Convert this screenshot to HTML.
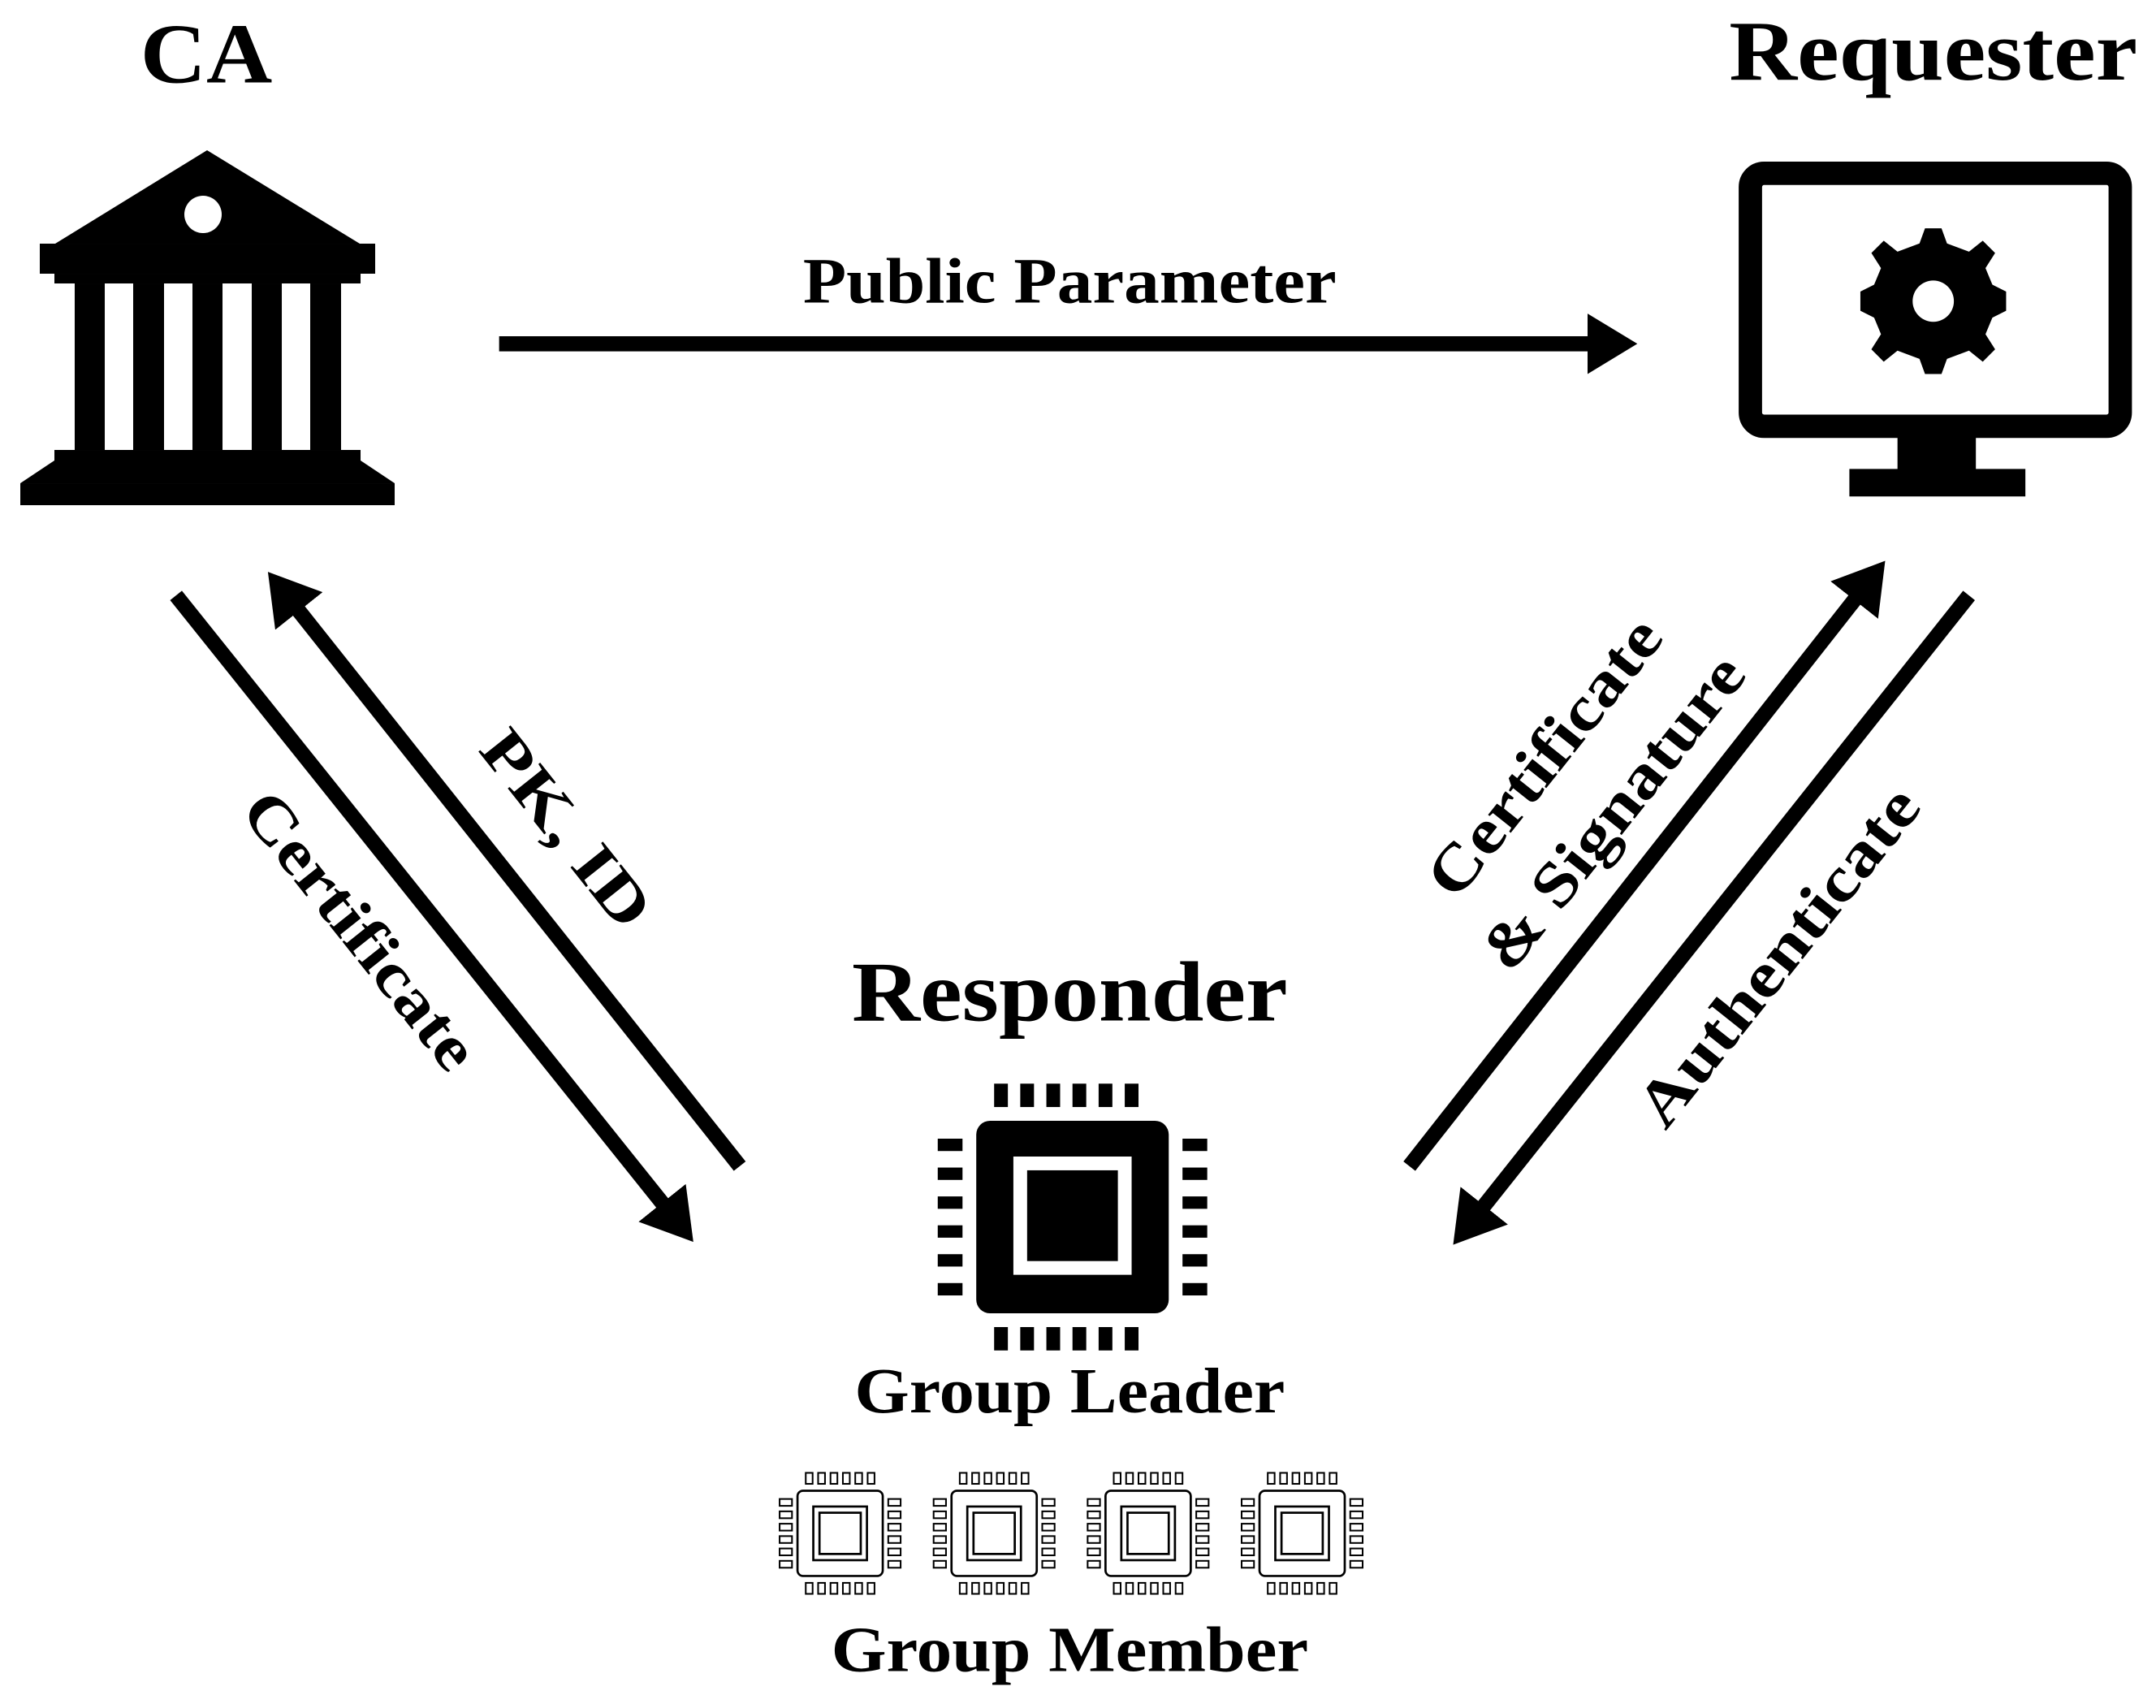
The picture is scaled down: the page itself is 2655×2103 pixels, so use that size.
<!DOCTYPE html>
<html><head><meta charset="utf-8"><style>
html,body{margin:0;padding:0;background:#fff;}
svg{display:block}
text{font-family:"Liberation Serif",serif;font-weight:bold;fill:#000}
</style></head><body>
<svg width="2655" height="2103" viewBox="0 0 1568 1242" preserveAspectRatio="none" xmlns="http://www.w3.org/2000/svg">
<defs>
<marker id="ah" markerWidth="4" markerHeight="4" refX="0.5" refY="2" orient="auto" markerUnits="strokeWidth">
<path d="M0,0 L3.3,2 L0,4 Z" fill="#000"/>
</marker>
<g id="sc">
<rect x="-31" y="-31" width="62" height="62" rx="4" fill="none" stroke="#000" stroke-width="1.6"/>
<rect x="-19.5" y="-19.5" width="39" height="39" fill="none" stroke="#000" stroke-width="1.6"/>
<rect x="-15" y="-15" width="30" height="30" fill="none" stroke="#000" stroke-width="1.6"/>
<g fill="none" stroke="#000" stroke-width="1.2">
<rect x="-25" y="-44" width="5" height="8"/><rect x="-16" y="-44" width="5" height="8"/><rect x="-7" y="-44" width="5" height="8"/><rect x="2" y="-44" width="5" height="8"/><rect x="11" y="-44" width="5" height="8"/><rect x="20" y="-44" width="5" height="8"/>
<rect x="-25" y="36" width="5" height="8"/><rect x="-16" y="36" width="5" height="8"/><rect x="-7" y="36" width="5" height="8"/><rect x="2" y="36" width="5" height="8"/><rect x="11" y="36" width="5" height="8"/><rect x="20" y="36" width="5" height="8"/>
<rect x="-44" y="-25" width="9" height="5"/><rect x="-44" y="-16" width="9" height="5"/><rect x="-44" y="-7" width="9" height="5"/><rect x="-44" y="2" width="9" height="5"/><rect x="-44" y="11" width="9" height="5"/><rect x="-44" y="20" width="9" height="5"/>
<rect x="35" y="-25" width="9" height="5"/><rect x="35" y="-16" width="9" height="5"/><rect x="35" y="-7" width="9" height="5"/><rect x="35" y="2" width="9" height="5"/><rect x="35" y="11" width="9" height="5"/><rect x="35" y="20" width="9" height="5"/>
</g>
</g>
</defs>

<g transform="scale(0.5906)" fill="#000">
<polygon points="255,185 443,300 68,300"/>
<rect x="49" y="300" width="413" height="37"/>
<rect x="67" y="337" width="377" height="12"/>
<rect x="92" y="349" width="37" height="205"/>
<rect x="164" y="349" width="38" height="205"/>
<rect x="237" y="349" width="37" height="205"/>
<rect x="310" y="349" width="37" height="205"/>
<rect x="382" y="349" width="38" height="205"/>
<rect x="67" y="554" width="377" height="14"/>
<polygon points="67,567 444,567 486,595 25,595"/>
<rect x="25" y="595" width="461" height="27"/>
<circle cx="250" cy="264" r="23" fill="#fff"/>
</g>

<rect x="1273" y="126" width="269" height="184" rx="10" fill="none" stroke="#000" stroke-width="17"/>
<rect x="1380" y="316" width="57" height="28" fill="#000"/>
<rect x="1345" y="341" width="128" height="20" fill="#000"/>
<g transform="translate(1406,219)">
<path fill="#000" fill-rule="evenodd" d="M-6,-53 L6,-53 L10,-42 L26,-36 L36,-44 L45,-35 L38,-24 L43,-12 L53,-7 L53,7 L43,12 L38,24 L45,35 L36,44 L26,36 L10,42 L6,53 L-6,53 L-10,42 L-26,36 L-36,44 L-45,35 L-38,24 L-43,12 L-53,7 L-53,-7 L-43,-12 L-38,-24 L-45,-35 L-36,-44 L-26,-36 L-10,-42 Z M15,0 A15,15 0 1 0 -15,0 A15,15 0 1 0 15,0 Z"/>
</g>

<text x="150" y="60" font-size="62" text-anchor="middle" textLength="96" lengthAdjust="spacingAndGlyphs">CA</text>
<text x="1406" y="58" font-size="62" text-anchor="middle" textLength="297" lengthAdjust="spacingAndGlyphs">Requester</text>
<text x="778" y="220" font-size="47" text-anchor="middle" textLength="388" lengthAdjust="spacingAndGlyphs">Public Parameter</text>
<text x="778" y="742" font-size="62" text-anchor="middle" textLength="317" lengthAdjust="spacingAndGlyphs">Responder</text>
<text x="778" y="1027" font-size="47" text-anchor="middle" textLength="313" lengthAdjust="spacingAndGlyphs">Group Leader</text>
<text x="778" y="1215" font-size="47" text-anchor="middle" textLength="347" lengthAdjust="spacingAndGlyphs">Group Member</text>

<g stroke="#000" stroke-width="11" fill="none">
<line x1="363" y1="250" x2="1160" y2="250" marker-end="url(#ah)"/>
<line x1="128" y1="433" x2="485" y2="879" marker-end="url(#ah)"/>
<line x1="538" y1="848" x2="214" y2="440" marker-end="url(#ah)"/>
<line x1="1025" y1="848" x2="1352" y2="432" marker-end="url(#ah)"/>
<line x1="1432" y1="433" x2="1076" y2="881" marker-end="url(#ah)"/>
</g>

<text font-size="46" text-anchor="middle" textLength="170" lengthAdjust="spacingAndGlyphs" transform="translate(400,612) rotate(51.5)">PK, ID</text>
<text font-size="46" text-anchor="middle" textLength="245" lengthAdjust="spacingAndGlyphs" transform="translate(250,686) rotate(51.5)">Certificate</text>
<text font-size="46" text-anchor="middle" textLength="245" lengthAdjust="spacingAndGlyphs" transform="translate(1135,560) rotate(-51.5)">Certificate</text>
<text font-size="46" text-anchor="middle" textLength="278" lengthAdjust="spacingAndGlyphs" transform="translate(1185,600) rotate(-51.5)">&amp; Signature</text>
<text font-size="46" text-anchor="middle" textLength="301" lengthAdjust="spacingAndGlyphs" transform="translate(1305,705) rotate(-51.5)">Authenticate</text>

<rect x="710" y="815" width="140" height="140" rx="10" fill="#000"/>
<rect x="737" y="841" width="86" height="86" fill="#fff"/>
<rect x="747" y="851" width="66" height="66" fill="#000"/>
<g fill="#000">
<rect x="723" y="788" width="10" height="17"/><rect x="742" y="788" width="10" height="17"/><rect x="761" y="788" width="10" height="17"/><rect x="780" y="788" width="10" height="17"/><rect x="799" y="788" width="10" height="17"/><rect x="818" y="788" width="10" height="17"/>
<rect x="723" y="965" width="10" height="17"/><rect x="742" y="965" width="10" height="17"/><rect x="761" y="965" width="10" height="17"/><rect x="780" y="965" width="10" height="17"/><rect x="799" y="965" width="10" height="17"/><rect x="818" y="965" width="10" height="17"/>
<rect x="682" y="828" width="18" height="9"/><rect x="682" y="849" width="18" height="9"/><rect x="682" y="870" width="18" height="9"/><rect x="682" y="891" width="18" height="9"/><rect x="682" y="912" width="18" height="9"/><rect x="682" y="933" width="18" height="9"/>
<rect x="860" y="828" width="18" height="9"/><rect x="860" y="849" width="18" height="9"/><rect x="860" y="870" width="18" height="9"/><rect x="860" y="891" width="18" height="9"/><rect x="860" y="912" width="18" height="9"/><rect x="860" y="933" width="18" height="9"/>
</g>

<use href="#sc" x="611" y="1115"/>
<use href="#sc" x="723" y="1115"/>
<use href="#sc" x="835" y="1115"/>
<use href="#sc" x="947" y="1115"/>
</svg>
</body></html>
